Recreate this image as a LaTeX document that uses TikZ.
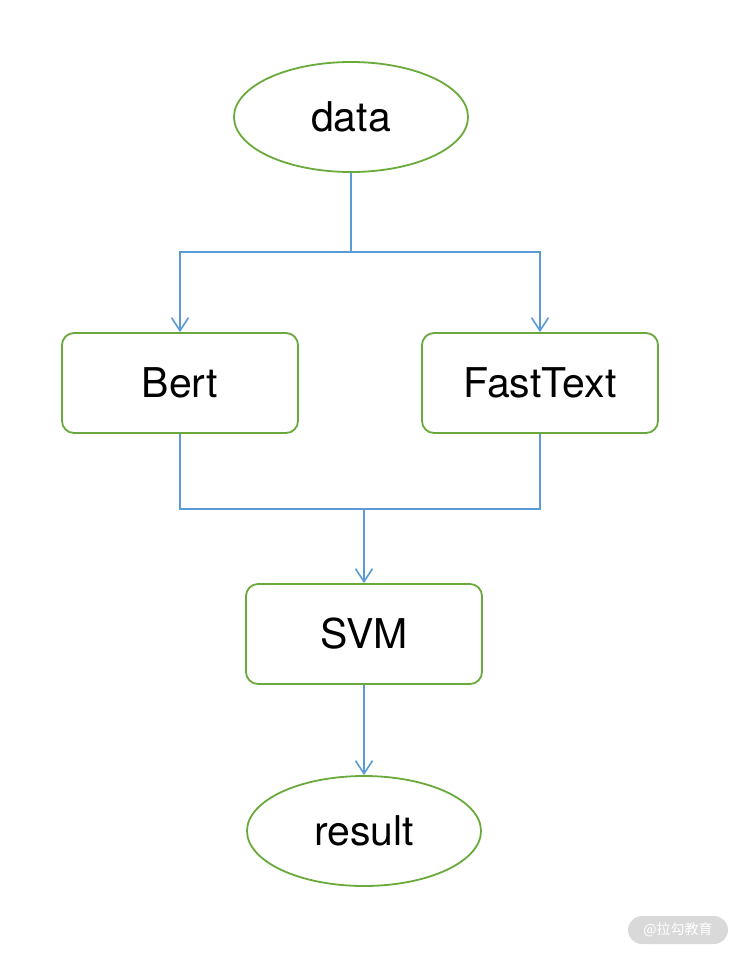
\documentclass[tikz,border=0pt]{standalone}
\usepackage{fontspec}
\setmainfont{TeX Gyre Heros}
\newfontfamily\cjk{Noto Sans CJK SC}
\usetikzlibrary{shapes.geometric,arrows.meta}
\definecolor{gr}{HTML}{6AAA3C}
\definecolor{bl}{HTML}{5B9BD5}
\definecolor{wm}{HTML}{D9D9D9}
\tikzset{
  ell/.style={ellipse,draw=gr,line width=1.8pt,minimum width=234pt,minimum height=110pt,inner sep=0pt,font=\fontsize{41}{46}\selectfont},
  rbox/.style={rectangle,rounded corners=12pt,draw=gr,line width=1.8pt,minimum width=236pt,minimum height=100pt,inner sep=0pt,font=\fontsize{41}{46}\selectfont},
  conn/.style={draw=bl,line width=1.6pt},
  arr/.style={conn,-{Straight Barb[length=13pt,width=17pt,line width=1.6pt]}},
}
\begin{document}
\begin{tikzpicture}[x=1pt,y=-1pt]
\useasboundingbox (0,0) rectangle (740,954);
\node[ell] (data) at (351,117) {data};
\node[rbox] (bert) at (180,383) {Bert};
\node[rbox] (fast) at (540,383) {FastText};
\node[rbox] (svm) at (364,634) {SVM};
\node[ell] (result) at (364,831) {result};
\coordinate (split) at (351,252);
\coordinate (merge) at (364,509);
\draw[conn] (data.south) -- (split);
\draw[arr] (split) -| (bert.north);
\draw[arr] (split) -| (fast.north);
\draw[conn] (bert.south) |- (merge);
\draw[conn] (fast.south) |- (merge);
\draw[arr] (merge) -- (svm.north);
\draw[arr] (svm.south) -- (result.north);
\node[rectangle,rounded corners=14pt,fill=wm,minimum width=100pt,minimum height=28pt,inner sep=0pt,text=white,font=\cjk\fontsize{14}{16}\selectfont] (wmark) at (678,930) {@拉勾教育};
\end{tikzpicture}
\end{document}
